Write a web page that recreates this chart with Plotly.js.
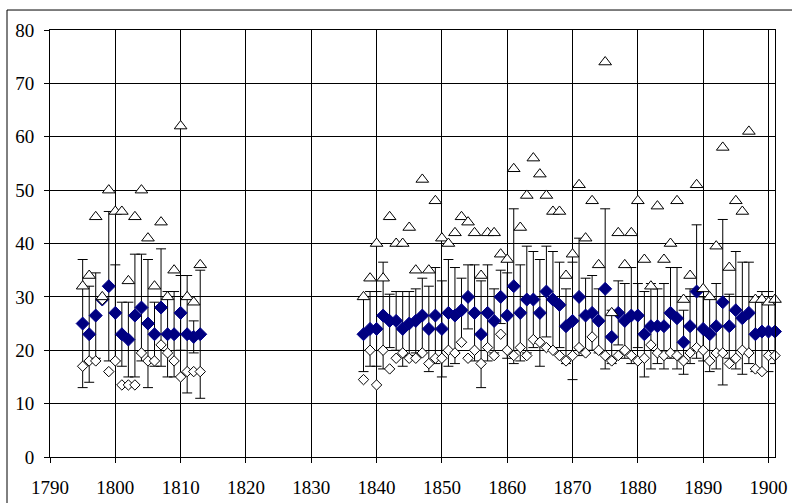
<!DOCTYPE html>
<html>
<head>
<meta charset="utf-8">
<script src="https://cdn.plot.ly/plotly-3.0.1.min.js"></script>
<style>html,body{margin:0;padding:0;background:#fff}#chart{width:792px;height:503px}</style>
</head>
<body>
<div id="chart"></div>
<script>
// ---- data ----
var years1 = [1795,1796,1797,1798,1799,1800,1801,1802,1803,1804,1805,1806,1807,1808,1809,1810,1811,1812,1813];
var mean1 = [25,23,26.5,29.5,32,27,23,22,26.5,28,25,23,28,23,23,27,23,22.5,23];
var sd1   = [12,9,8,0,14,9,6,7,11.5,10,12,6,11,8,8,7,11,3,12];
var min1  = [17,18,18,29.5,16,18,13.5,13.5,13.5,19.5,18,18,21,19.5,18,15,16,16,16];
var max1  = [32,34,45,30,50,46,46,33,45,50,41,32,44,30,35,62,30,29,36];

var years2 = [1838,1839,1840,1841,1842,1843,1844,1845,1846,1847,
              1848,1849,1850,1851,1852,1853,1854,1855,1856,1857,
              1858,1859,1860,1861,1862,1863,1864,1865,1866,1867,
              1868,1869,1870,1871,1872,1873,1874,1875,1876,1877,
              1878,1879,1880,1881,1882,1883,1884,1885,1886,1887,
              1888,1889,1890,1891,1892,1893,1894,1895,1896,1897,
              1898,1899,1900,1901];
var mean2 = [23,24,24,26.5,25.5,25.5,24,25,25.5,26.5,
             24,26.5,24,27,26.5,27.5,30,27,23,27,
             25.5,30,26.5,32,27,29.5,29.5,27,31,29.5,
             28.5,24.5,25.5,30,26.5,27,25.5,31.5,22.5,27,
             25.5,26.5,26.5,23,24.5,24.5,24.5,27,26,21.5,
             24.5,31,24,23,24.5,29,24.5,27.5,26,27,
             23,23.5,23.5,23.5];
var sd2   = [7,7,7,10,5,5.5,7,6,6,7,
             8,9,9,10,9,6,6,9,10,9,
             6,5,8,14.5,9,10,9,10,8.5,9,
             8,7,11,11,7,7,6,15,5,6,
             7,9,6,8,8,7,8,8.5,9.5,6,
             7,12.5,6,7,8,15.5,6,11,10.5,9.5,
             7,7.5,7.5,6];
var min2  = [14.5,20,13.5,20,16.5,18.5,19.5,18.5,18.5,19.5,
             17.5,18.5,18.5,20,19.5,21.5,18.5,20,17.5,20.5,
             19,23,20,19,20.5,19,22,21.5,20.5,20,
             19,18,19,20.5,19.5,22.5,20,19,18,19,
             20,19,18,18.5,21,19.5,19,19.5,19,18,
             19.5,20.5,20,18,19.5,19.5,17.5,18.5,20,19.5,
             16.5,16,19,19];
var max2  = [30,33.5,40,33.5,45,40,40,43,35,52,
             35,48,41,40,42,45,44,42,34,42,
             42,38,37,54,43,49,56,53,49,46,
             46,34,38,51,41,48,36,74,27,42,
             36,42,48,37,32,47,37,40,48,29.5,
             34,51,31.5,30,39.5,58,35.5,48,46,61,
             29.5,29.5,29,29.5];

var xTicks = [1790,1800,1810,1820,1830,1840,1850,1860,1870,1880,1890,1900];
var yTicks = [0,10,20,30,40,50,60,70,80];

// ---- traces ----
var years = years1.concat(years2);
var traces = [
  {
    x: years, y: mean1.concat(mean2), type: 'scatter', mode: 'markers', name: 'mean',
    error_y: {type: 'data', array: sd1.concat(sd2), visible: true, color: '#000', thickness: 1, width: 5},
    marker: {symbol: 'diamond', size: 10, color: '#000080', line: {color: '#00008b', width: 1}},
    cliponaxis: false
  },
  {
    x: years, y: min1.concat(min2), type: 'scatter', mode: 'markers', name: 'min',
    marker: {symbol: 'diamond', size: 8, color: '#fff', line: {color: '#000', width: 1}},
    cliponaxis: false
  },
  {
    x: years, y: max1.concat(max2), type: 'scatter', mode: 'markers', name: 'max',
    marker: {symbol: 'triangle-up', size: 11, color: '#fff', line: {color: '#000', width: 1}},
    cliponaxis: false
  }
];

var axisCommon = {
  showgrid: true, gridcolor: '#000', gridwidth: 1,
  showline: true, linecolor: '#000', linewidth: 1, mirror: true,
  ticks: 'outside', ticklen: 5, tickcolor: '#000', tickwidth: 1,
  zeroline: false,
  tickfont: {family: '"Liberation Serif", "Times New Roman", serif', size: 19, color: '#000'}
};

var layout = {
  width: 792, height: 503,
  margin: {l: 50, r: 17, t: 30, b: 46, pad: 0},
  paper_bgcolor: '#fff', plot_bgcolor: '#fff',
  showlegend: false,
  xaxis: Object.assign({}, axisCommon, {
    range: [1790, 1901], tickvals: xTicks, ticktext: xTicks.map(String),
    ticklabelstandoff: 8
  }),
  yaxis: Object.assign({}, axisCommon, {
    range: [0, 80], tickvals: yTicks, ticktext: yTicks.map(String),
    ticklabelstandoff: 6
  }),
  shapes: [
    {type: 'rect', xref: 'paper', yref: 'paper',
     x0: -0.0593, x1: 1.05, y0: -0.2, y1: 1.0468,
     line: {color: '#000', width: 1}, fillcolor: 'rgba(0,0,0,0)', layer: 'below'}
  ]
};

Plotly.newPlot('chart', traces, layout, {staticPlot: true, displayModeBar: false});
</script>
</body>
</html>
